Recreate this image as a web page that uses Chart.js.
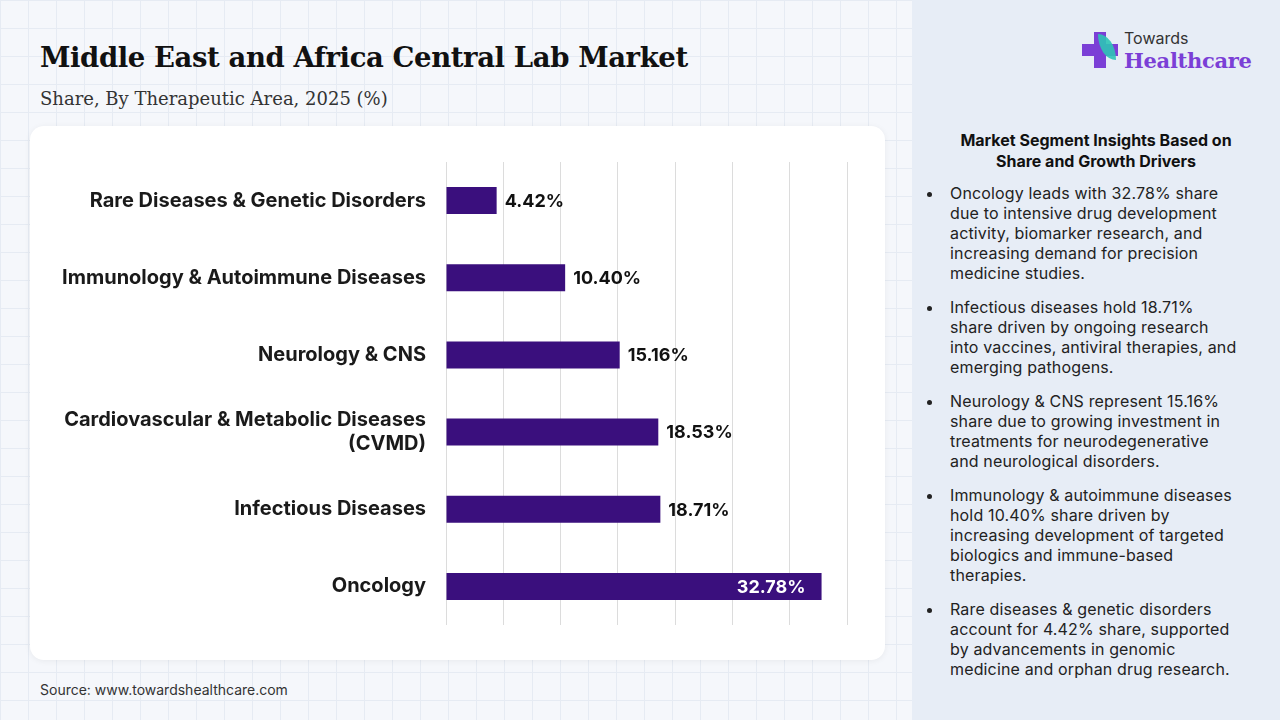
<!DOCTYPE html>
<html>
<head>
<meta charset="utf-8">
<script src="https://cdn.jsdelivr.net/npm/chart.js@4"></script>
<style>
  body { margin: 0; width: 1280px; height: 720px; overflow: hidden; font-family: Inter, "Noto Sans", sans-serif;
    background-color: #f5f7fb;
    background-image: linear-gradient(#e6ebf3 1px, transparent 1px), linear-gradient(90deg, #e6ebf3 1px, transparent 1px);
    background-size: 28px 28px; position: relative; }
  h1 { position: absolute; left: 40px; top: 41px; margin: 0; font-family: "DejaVu Serif", serif; font-size: 27.5px; font-weight: bold; color: #111; letter-spacing: -0.4px; }
  .sub { position: absolute; left: 40px; top: 88px; font-family: "DejaVu Serif", serif; font-size: 18px; color: #333; }
  .card { position: absolute; left: 30px; top: 126px; width: 855px; height: 534px; background: #fff; border-radius: 14px; box-shadow: 0 1px 6px rgba(0,0,0,0.06); }
  canvas { position: absolute; left: 0; top: 0; }
  .src { position: absolute; left: 40px; top: 681px; font-size: 14px; color: #333; }
  .panel { position: absolute; left: 912px; top: 0; width: 368px; height: 720px; background: #e7edf6; }
  .panel h3 { margin: 130px 0 0 0; text-align: center; font-size: 16px; font-weight: bold; color: #111; line-height: 21px; }
  .panel ul { margin: 11px 0 0 0; padding: 0 40px 0 32px; font-size: 16px; color: #222; line-height: 20px; letter-spacing: 0.15px; }
  .panel li { margin-bottom: 14px; padding-left: 6px; }
  .logo { position: absolute; left: 1080px; top: 28px; }
  .logo .t1 { position: absolute; left: 44px; top: 0; font-size: 16px; color: #333; }
  .logo .t2 { position: absolute; left: 44px; top: 20px; font-family: "DejaVu Serif", serif; font-size: 21px; font-weight: bold; color: #7b3fd6; white-space: nowrap; letter-spacing: -0.3px; }
  .cross1 { position: absolute; left: 2px; top: 16px; width: 36px; height: 12px; background: #7b3fd6; }
  .cross2 { position: absolute; left: 14px; top: 4px; width: 12px; height: 36px; background: #7b3fd6; }
  .leaf { position: absolute; left: 18px; top: 6px; width: 18px; height: 26px; background: #2ec4b6; border-radius: 0 100% 0 100%; opacity: 0.9; }
</style>
</head>
<body>
<h1>Middle East and Africa Central Lab Market</h1>
<div class="sub">Share, By Therapeutic Area, 2025 (%)</div>
<div class="card"><canvas id="c" width="855" height="534"></canvas></div>
<div class="src">Source: www.towardshealthcare.com</div>
<div class="panel">
  <h3>Market Segment Insights Based on<br>Share and Growth Drivers</h3>
  <ul>
    <li>Oncology leads with 32.78% share due to intensive drug development activity, biomarker research, and increasing demand for precision medicine studies.</li>
    <li>Infectious diseases hold 18.71% share driven by ongoing research into vaccines, antiviral therapies, and emerging pathogens.</li>
    <li>Neurology &amp; CNS represent 15.16% share due to growing investment in treatments for neurodegenerative and neurological disorders.</li>
    <li>Immunology &amp; autoimmune diseases hold 10.40% share driven by increasing development of targeted biologics and immune-based therapies.</li>
    <li>Rare diseases &amp; genetic disorders account for 4.42% share, supported by advancements in genomic medicine and orphan drug research.</li>
  </ul>
</div>
<div class="logo">
  <div class="cross1"></div><div class="cross2"></div><div class="leaf"></div>
  <div class="t1">Towards</div><div class="t2">Healthcare</div>
</div>
<script>
const categories = [
  "Rare Diseases & Genetic Disorders",
  "Immunology & Autoimmune Diseases",
  "Neurology & CNS",
  ["Cardiovascular & Metabolic Diseases", "(CVMD)"],
  "Infectious Diseases",
  "Oncology"
];
const shares = [4.42, 10.40, 15.16, 18.53, 18.71, 32.78];
const barColor = "#3a0f7d";

const valueLabels = {
  id: "valueLabels",
  afterDatasetsDraw(chart) {
    const ctx = chart.ctx;
    const meta = chart.getDatasetMeta(0);
    ctx.save();
    ctx.font = "bold 18px Inter, sans-serif";
    ctx.textBaseline = "middle";
    meta.data.forEach((bar, i) => {
      const txt = shares[i].toFixed(2) + "%";
      if (i === shares.length - 1) {
        ctx.fillStyle = "#fff";
        ctx.textAlign = "right";
        ctx.fillText(txt, bar.x - 16, bar.y + 1);
      } else {
        ctx.fillStyle = "#111";
        ctx.textAlign = "left";
        ctx.fillText(txt, bar.x + 8, bar.y + 1);
      }
    });
    ctx.restore();
  }
};

new Chart(document.getElementById("c"), {
  type: "bar",
  data: {
    labels: categories,
    datasets: [{ data: shares, backgroundColor: barColor, barPercentage: 0.7, categoryPercentage: 0.5 }]
  },
  options: {
    indexAxis: "y",
    responsive: false,
    animation: false,
    layout: { padding: { top: 36, bottom: 35, right: 38, left: 0 } },
    plugins: { legend: { display: false }, tooltip: { enabled: false } },
    scales: {
      x: {
        min: 0, max: 35,
        ticks: { stepSize: 5, display: false },
        grid: { color: "#dcdcdc", drawTicks: false },
        border: { display: false }
      },
      y: {
        afterFit(axis) { axis.width = 416; },
        grid: { display: false },
        border: { display: false },
        ticks: { color: "#1a1a1a", font: { size: 20, weight: "bold", family: "Inter, sans-serif" }, padding: 12 }
      }
    }
  },
  plugins: [valueLabels]
});
</script>
</body>
</html>
